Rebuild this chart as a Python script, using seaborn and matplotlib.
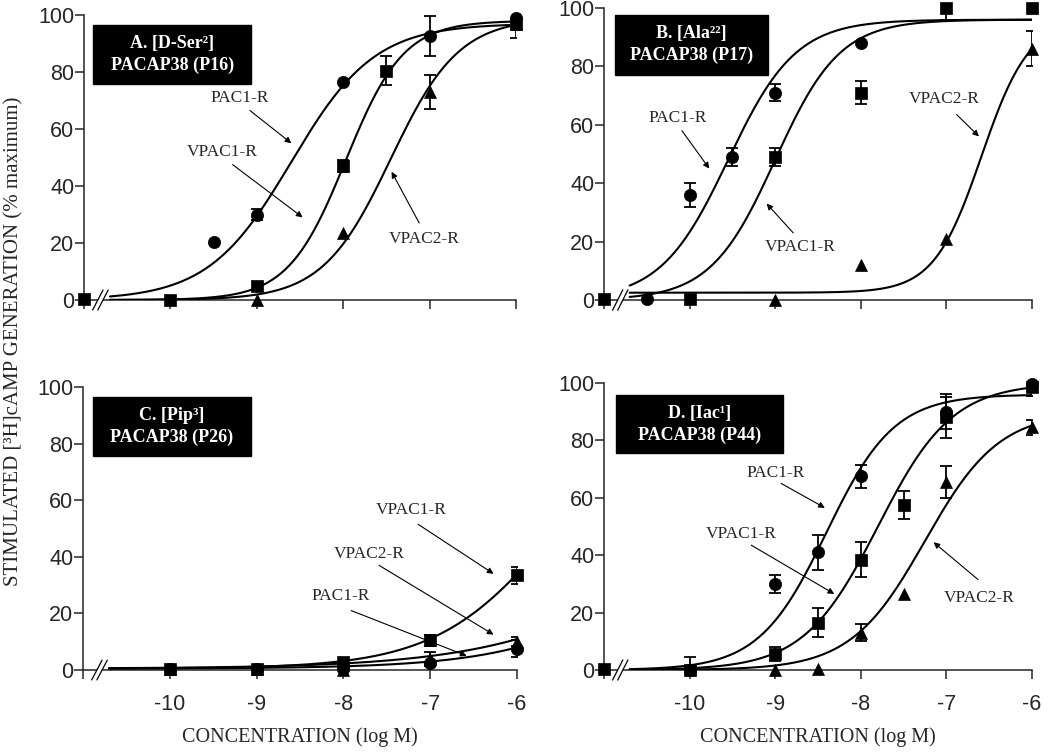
import numpy as np
import pandas as pd
import matplotlib
matplotlib.use("Agg")
import matplotlib.pyplot as plt
from matplotlib.patches import Rectangle, Polygon
import seaborn as sns

"""Data read off the figure (x = log M, control plotted at -11)"""
# panel A  [D-Ser2] PACAP38 (P16)
a_pac1_x = [-9.5, -9, -8, -7, -6]
a_pac1_y = [20.5, 30, 76.5, 92.5, 99]
a_pac1_err = [0, 2, 0, 7, 0]
a_vpac1_x = [-11, -10, -9, -8, -7.5, -6]
a_vpac1_y = [0.5, 0, 5, 47, 80.5, 97]
a_vpac1_err = [0, 0, 0, 2, 5, 5]
a_vpac2_x = [-9, -8, -7, -6]
a_vpac2_y = [0, 23.5, 73, 97]
a_vpac2_err = [0, 0, 6, 0]

# panel B  [Ala22] PACAP38 (P17)
b_pac1_x = [-10.5, -10, -9.5, -9, -8]
b_pac1_y = [0.5, 36, 49, 71, 88]
b_pac1_err = [0, 4, 3, 3, 0]
b_vpac1_x = [-11, -10, -9, -8, -7, -6]
b_vpac1_y = [0.5, 0.5, 49, 71, 100, 100]
b_vpac1_err = [0, 0, 3, 4, 4, 0]
b_vpac2_x = [-9, -8, -7, -6]
b_vpac2_y = [0, 12, 21, 86]
b_vpac2_err = [0, 0, 0, 6]

# panel C  [Pip3] PACAP38 (P26)
c_pac1_x = [-10, -9, -8, -7, -6]
c_pac1_y = [0.5, 0.5, 0.5, 2.5, 7.5]
c_pac1_err = [0, 0, 0, 0.5, 3]
c_vpac1_x = [-10, -9, -8, -7, -6]
c_vpac1_y = [0.5, 0.5, 3, 10.5, 33.5]
c_vpac1_err = [0, 0, 0, 2, 3]
c_vpac2_x = [-10, -9, -8, -7, -6]
c_vpac2_y = [0.5, 0.5, 0, 4, 10]
c_vpac2_err = [0, 0, 0, 2.5, 1.5]

# panel D  [Iac1] PACAP38 (P44)
d_pac1_x = [-10, -9, -8.5, -8, -7, -6]
d_pac1_y = [0, 30, 41, 67.5, 90, 99.5]
d_pac1_err = [4.5, 3, 6, 4, 6, 1]
d_vpac1_x = [-11, -10, -9, -8.5, -8, -7.5, -7, -6]
d_vpac1_y = [0.5, 0, 5.5, 16.5, 38.5, 57.5, 88, 98.5]
d_vpac1_err = [0, 0, 2.5, 5, 6, 5, 7, 3]
d_vpac2_x = [-9, -8.5, -8, -7.5, -7, -6]
d_vpac2_y = [0, 0.5, 13, 26.5, 65.5, 84.5]
d_vpac2_err = [0, 0, 3, 0, 5.5, 2.5]

# fitted sigmoid curves (bottom, top, logEC50, hill)
a_fits = [(0, 97, -8.6, 0.9), (0, 98, -7.97, 1.3), (0, 99, -7.45, 1.1)]
b_fits = [(0, 96, -9.55, 1.1), (0, 96, -9.0, 1.15), (2.5, 96, -6.59, 1.56)]
c_fits = [(0.5, 100, -3.82, 0.5), (0.5, 100, -5.53, 0.63), (0.5, 100, -3.67, 0.4)]
d_fits = [(0, 96, -8.4, 1.1), (0, 100, -7.8, 1.0), (0, 90, -7.25, 1.0)]

titles = ["A. [D-Ser\u00b2]\nPACAP38 (P16)", "B. [Ala\u00b2\u00b2]\nPACAP38 (P17)",
          "C. [Pip\u00b3]\nPACAP38 (P26)", "D. [Iac\u00b9]\nPACAP38 (P44)"]

# annotations: (label, text xy, arrow tail, arrow head)
a_notes = [("PAC1-R", (-9.2, 71), (-9.08, 66.5), (-8.6, 55)),
           ("VPAC1-R", (-9.4, 52), (-9.28, 47.5), (-8.47, 29)),
           ("VPAC2-R", (-7.06, 21.5), (-7.12, 27), (-7.44, 45))]
b_notes = [("PAC1-R", (-10.14, 62.5), (-10.09, 58), (-9.77, 45)),
           ("VPAC1-R", (-8.71, 18), (-8.79, 23), (-9.1, 33)),
           ("VPAC2-R", (-7.02, 69), (-6.88, 63.5), (-6.62, 56))]
c_notes = [("VPAC1-R", (-7.22, 56.5), (-7.14, 51.5), (-6.27, 34)),
           ("VPAC2-R", (-7.7, 41), (-7.59, 37), (-6.27, 12.5)),
           ("PAC1-R", (-8.03, 26), (-7.91, 21), (-6.58, 5))]
d_notes = [("PAC1-R", (-9.0, 68.5), (-8.93, 65), (-8.42, 56.5)),
           ("VPAC1-R", (-9.4, 47.5), (-9.28, 43.5), (-8.31, 26.5)),
           ("VPAC2-R", (-6.62, 25), (-6.63, 31.5), (-7.15, 44.5))]

sns.set_style("ticks")
plt.rcParams["font.family"] = ["Liberation Serif", "DejaVu Serif"]

fig = plt.figure(figsize=(10.5, 7.55), dpi=100)
W, H = 1050, 755
# axes boxes in pixels (left, top, right, bottom)
boxes = [(84, 15, 516, 300), (604, 8, 1032, 300), (83, 387, 517, 670), (604, 383, 1032, 670)]
title_boxes = [(0.021, 0.758, 0.387, 0.965), (0.026, 0.771, 0.383, 0.976),
               (0.023, 0.756, 0.387, 0.965), (0.028, 0.756, 0.418, 0.958)]

panels = [
    (a_pac1_x, a_pac1_y, a_pac1_err, a_vpac1_x, a_vpac1_y, a_vpac1_err, a_vpac2_x, a_vpac2_y, a_vpac2_err, a_fits, a_notes),
    (b_pac1_x, b_pac1_y, b_pac1_err, b_vpac1_x, b_vpac1_y, b_vpac1_err, b_vpac2_x, b_vpac2_y, b_vpac2_err, b_fits, b_notes),
    (c_pac1_x, c_pac1_y, c_pac1_err, c_vpac1_x, c_vpac1_y, c_vpac1_err, c_vpac2_x, c_vpac2_y, c_vpac2_err, c_fits, c_notes),
    (d_pac1_x, d_pac1_y, d_pac1_err, d_vpac1_x, d_vpac1_y, d_vpac1_err, d_vpac2_x, d_vpac2_y, d_vpac2_err, d_fits, d_notes),
]

curve_x = np.linspace(-10.7, -6, 300)
markers = ["o", "s", "^"]
msizes = [78, 70, 74]

for i, p in enumerate(panels):
    l, t, r, b = boxes[i]
    ax = fig.add_axes([l / W, 1 - b / H, (r - l) / W, (b - t) / H])
    series = [(p[0], p[1], p[2]), (p[3], p[4], p[5]), (p[6], p[7], p[8])]
    fits, notes = p[9], p[10]

    for (bot, top, ec, hill) in fits:
        yc = bot + (top - bot) / (1 + 10 ** (hill * (ec - curve_x)))
        sns.lineplot(x=curve_x, y=yc, color="black", linewidth=1.5, ax=ax, zorder=3)

    for k, (xs, ys, es) in enumerate(series):
        df = pd.DataFrame({"x": xs, "y": ys, "err": es})
        de = df[df["err"] > 0]
        ax.errorbar(de["x"], de["y"], yerr=de["err"], fmt="none", ecolor="black",
                    elinewidth=1.3, capsize=4, capthick=1.3, zorder=4)
        sns.scatterplot(data=df, x="x", y="y", marker=markers[k], s=msizes[k], color="black",
                        edgecolor="black", linewidth=0.5, ax=ax, zorder=5, clip_on=False)

    for (lab, txy, tail, head) in notes:
        ax.text(txy[0], txy[1], lab, ha="center", va="center", fontsize=12.5)
        ax.annotate("", xy=head, xytext=tail,
                    arrowprops=dict(arrowstyle="-|>", lw=0.8, color="black", mutation_scale=9,
                                    shrinkA=0, shrinkB=0))

    x0, y0, x1, y1 = title_boxes[i]
    ax.add_patch(Rectangle((x0, y0), x1 - x0, y1 - y0, transform=ax.transAxes,
                           facecolor="black", edgecolor="black", zorder=6))
    ax.text((x0 + x1) / 2, (y0 + y1) / 2, titles[i], transform=ax.transAxes, ha="center",
            va="center", color="white", fontsize=13, fontweight="bold", linespacing=1.35, zorder=7)

    ax.set_xlim(-11, -6)
    ax.set_ylim(0, 100)
    ax.set_yticks([0, 20, 40, 60, 80, 100])
    ax.set_xticks([-11, -10, -9, -8, -7, -6])
    if i >= 2:
        ax.set_xticklabels(["", "-10", "-9", "-8", "-7", "-6"])
        ax.set_xlabel("CONCENTRATION (log M)", fontsize=14.5, labelpad=9)
    else:
        ax.set_xticklabels([])
        ax.set_xlabel("")
    ax.set_ylabel("")
    for lab in ax.get_xticklabels() + ax.get_yticklabels():
        lab.set_fontfamily("Liberation Sans")
        lab.set_fontsize(15.5)
    ax.tick_params(axis="x", length=6.5, width=1.1, pad=10.5)
    ax.tick_params(axis="y", length=6.5, width=1.1, pad=0.5)
    sns.despine(ax=ax)
    for s in ["left", "bottom"]:
        ax.spines[s].set_linewidth(1.1)

    # axis break marks
    tr = ax.get_xaxis_transform()
    ax.add_patch(Polygon([(-10.9, -0.035), (-10.78, 0.035), (-10.72, 0.035), (-10.84, -0.035)],
                         closed=True, transform=tr, facecolor="white", edgecolor="none",
                         clip_on=False, zorder=3.5))
    ax.plot([-10.9, -10.78], [-0.035, 0.035], transform=tr, color="black", lw=0.9, clip_on=False, zorder=4)
    ax.plot([-10.84, -10.72], [-0.035, 0.035], transform=tr, color="black", lw=0.9, clip_on=False, zorder=4)

fig.text(0.013, 0.548, "STIMULATED [\u00b3H]cAMP GENERATION (% maximum)", rotation=90,
         ha="center", va="center", fontsize=15)

fig.savefig("out.png", dpi=100)
